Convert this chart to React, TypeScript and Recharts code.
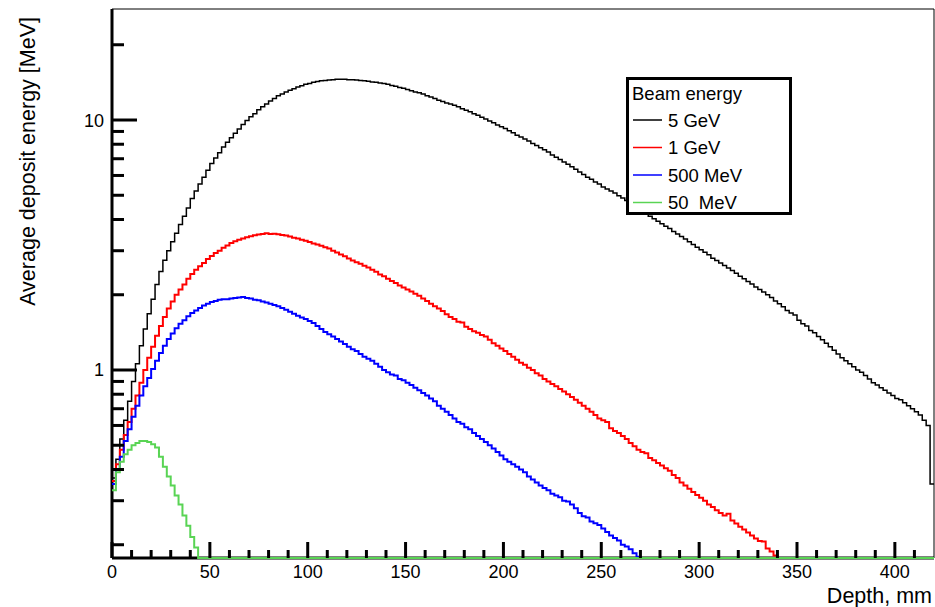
import React from "react";
import { ComposedChart, Line, XAxis, YAxis, ReferenceArea } from "recharts";

// histogram binning along depth (mm)
const BIN_WIDTH = 2;
const DEPTH_MAX = 420;
const Y_MIN = 0.177;
const Y_MAX = 27.8;

// bin contents, MeV per 2 mm bin; bins past the end of an array are empty
const beam5GeV = [
  0.37, 0.44, 0.53, 0.63, 0.75, 0.9, 1.06, 1.25, 1.46, 1.68,
  1.92, 2.2, 2.48, 2.75, 3.0, 3.26, 3.52, 3.82, 4.12, 4.45,
  4.85, 5.2, 5.55, 5.9, 6.3, 6.7, 7.05, 7.4, 7.8, 8.15,
  8.5, 8.85, 9.2, 9.6, 9.95, 10.3, 10.6, 11.0, 11.3, 11.6,
  11.9, 12.2, 12.5, 12.7, 12.95, 13.15, 13.35, 13.55, 13.7, 13.9,
  14.0, 14.15, 14.25, 14.35, 14.4, 14.45, 14.5, 14.55, 14.55, 14.55,
  14.5, 14.5, 14.45, 14.4, 14.35, 14.3, 14.2, 14.15, 14.05, 14.0,
  13.9, 13.75, 13.65, 13.5, 13.4, 13.25, 13.1, 12.95, 12.85, 12.7,
  12.5, 12.35, 12.2, 12.0, 11.85, 11.7, 11.6, 11.45, 11.3, 11.1,
  10.95, 10.8, 10.6, 10.45, 10.25, 10.1, 9.9, 9.75, 9.55, 9.4,
  9.25, 9.05, 8.9, 8.7, 8.55, 8.4, 8.25, 8.05, 7.9, 7.75,
  7.6, 7.45, 7.25, 7.1, 6.95, 6.8, 6.65, 6.5, 6.35, 6.2,
  6.05, 5.9, 5.8, 5.65, 5.55, 5.4, 5.3, 5.2, 5.1, 4.98,
  4.87, 4.76, 4.65, 4.55, 4.45, 4.35, 4.25, 4.12, 4.03, 3.94,
  3.85, 3.76, 3.68, 3.58, 3.5, 3.42, 3.34, 3.26, 3.18, 3.1,
  3.03, 2.96, 2.89, 2.8, 2.74, 2.68, 2.62, 2.56, 2.5, 2.44,
  2.37, 2.32, 2.26, 2.21, 2.15, 2.1, 2.05, 2.0, 1.95, 1.89,
  1.84, 1.79, 1.73, 1.69, 1.66, 1.58, 1.53, 1.5, 1.44, 1.41,
  1.36, 1.32, 1.28, 1.24, 1.2, 1.16, 1.12, 1.09, 1.06, 1.03,
  1.0, 0.98, 0.95, 0.92, 0.89, 0.87, 0.85, 0.83, 0.81, 0.79,
  0.77, 0.76, 0.74, 0.72, 0.7, 0.68, 0.66, 0.63, 0.6, 0.35,
];

const beam1GeV = [
  0.36, 0.42, 0.48, 0.55, 0.62, 0.7, 0.79, 0.89, 1.0, 1.12,
  1.24, 1.37, 1.5, 1.63, 1.76, 1.88, 2.0, 2.1, 2.2, 2.32,
  2.42, 2.52, 2.6, 2.68, 2.78, 2.86, 2.94, 3.0, 3.08, 3.15,
  3.22, 3.27, 3.32, 3.36, 3.4, 3.43, 3.46, 3.48, 3.5, 3.52,
  3.5, 3.51, 3.49, 3.47, 3.45, 3.42, 3.38, 3.36, 3.32, 3.29,
  3.25, 3.21, 3.18, 3.14, 3.1, 3.06, 3.0, 2.95, 2.9, 2.85,
  2.79, 2.74, 2.7, 2.66, 2.61, 2.57, 2.52, 2.47, 2.41, 2.37,
  2.32, 2.27, 2.23, 2.18, 2.14, 2.1, 2.06, 2.02, 1.98, 1.93,
  1.89, 1.84, 1.8, 1.76, 1.72, 1.67, 1.63, 1.6, 1.56, 1.55,
  1.49, 1.46, 1.43, 1.41, 1.38, 1.36, 1.32, 1.28, 1.25, 1.22,
  1.19, 1.16, 1.13, 1.1, 1.07, 1.05, 1.02, 1.0, 0.97, 0.95,
  0.92, 0.9, 0.88, 0.86, 0.84, 0.82, 0.8, 0.78, 0.76, 0.74,
  0.72, 0.7, 0.68, 0.66, 0.64, 0.63, 0.62, 0.585, 0.57, 0.56,
  0.545, 0.53, 0.51, 0.495, 0.48, 0.47, 0.465, 0.445, 0.435, 0.425,
  0.415, 0.405, 0.395, 0.38, 0.37, 0.355, 0.345, 0.335, 0.325, 0.316,
  0.308, 0.3, 0.29, 0.283, 0.275, 0.268, 0.262, 0.266, 0.25, 0.243,
  0.236, 0.23, 0.224, 0.218, 0.212, 0.207, 0.206, 0.193, 0.188, 0.181,
];

const beam500MeV = [
  0.35, 0.4, 0.45, 0.52, 0.58, 0.65, 0.72, 0.79, 0.86, 0.93,
  1.01, 1.09, 1.17, 1.25, 1.33, 1.4, 1.47, 1.53, 1.58, 1.64,
  1.69, 1.73, 1.77, 1.81, 1.84, 1.87, 1.89, 1.91, 1.92, 1.92,
  1.93, 1.94, 1.95, 1.96, 1.94, 1.93, 1.91, 1.9, 1.88, 1.86,
  1.84, 1.82, 1.8, 1.77, 1.74, 1.71, 1.68, 1.65, 1.62, 1.6,
  1.57, 1.54, 1.5, 1.46, 1.42, 1.39, 1.36, 1.33, 1.3, 1.27,
  1.24, 1.21, 1.19, 1.16, 1.13, 1.11, 1.09, 1.06, 1.03, 1.0,
  0.98, 0.96, 0.95, 0.92, 0.91, 0.89, 0.87, 0.85, 0.83, 0.81,
  0.79, 0.77, 0.75, 0.72, 0.7, 0.68, 0.66, 0.64, 0.62, 0.61,
  0.59, 0.58, 0.56, 0.545, 0.53, 0.515, 0.5, 0.485, 0.47, 0.455,
  0.44, 0.43, 0.42, 0.41, 0.4, 0.39, 0.375, 0.365, 0.355, 0.345,
  0.337, 0.33, 0.32, 0.315, 0.31, 0.3, 0.298, 0.29, 0.28, 0.268,
  0.26, 0.257, 0.248, 0.244, 0.24, 0.232, 0.225, 0.218, 0.213, 0.208,
  0.2, 0.197, 0.192, 0.185, 0.179,
];

const beam50MeV = [
  0.33, 0.39, 0.43, 0.46, 0.48, 0.5, 0.51, 0.52, 0.52, 0.515,
  0.505, 0.49, 0.45, 0.41, 0.375, 0.345, 0.315, 0.29, 0.262, 0.238,
  0.215, 0.195,
];

const xTicks = [
  0, 10, 20, 30, 40, 50, 60, 70, 80, 90, 100, 110, 120, 130, 140, 150, 160, 170, 180, 190, 200,
  210, 220, 230, 240, 250, 260, 270, 280, 290, 300, 310, 320, 330, 340, 350, 360, 370, 380, 390, 400, 410,
];
const xLabelTicks = [0, 50, 100, 150, 200, 250, 300, 350, 400];
const yTicks = [0.2, 0.3, 0.4, 0.5, 0.6, 0.7, 0.8, 0.9, 1, 2, 3, 4, 5, 6, 7, 8, 9, 10, 20];
const yLabelTicks = [1, 10];

const series = [
  { key: "e5", name: "5 GeV", color: "#000000", width: 1.5, values: beam5GeV },
  { key: "e1", name: "1 GeV", color: "#ff0000", width: 2, values: beam1GeV },
  { key: "e500", name: "500 MeV", color: "#0000ff", width: 2, values: beam500MeV },
  { key: "e50", name: "50  MeV", color: "#59d454", width: 2, values: beam50MeV },
];

const FONT = "'Liberation Sans', Arial, Helvetica, sans-serif";
const nBins = DEPTH_MAX / BIN_WIDTH;

// empty bins sit on the lower edge of the frame, like ROOT draws them
const binRow = (i: number) => {
  const row: Record<string, number> = { x: i * BIN_WIDTH };
  series.forEach((s) => {
    const v = s.values[Math.min(i, nBins - 1)] ?? 0;
    row[s.key] = Math.max(v, Y_MIN);
  });
  return row;
};
const rows = Array.from({ length: nBins + 1 }, (_, i) => binRow(i));
rows[nBins].x = DEPTH_MAX;

const XTick = (props: any) => {
  const { x, y, payload } = props;
  const major = xLabelTicks.includes(payload.value);
  return (
    <g>
      <line x1={x} x2={x} y1={y} y2={y - (major ? 16 : 8)} stroke="#000" strokeWidth={3} />
      {major && (
        <text x={x} y={y + 20} textAnchor="middle" fontSize={18} fontFamily={FONT} fill="#000">
          {payload.value}
        </text>
      )}
    </g>
  );
};

const YTick = (props: any) => {
  const { x, y, payload } = props;
  const major = yLabelTicks.includes(payload.value);
  return (
    <g>
      <line x1={x} x2={x + (major ? 25 : 12)} y1={y} y2={y} stroke="#000" strokeWidth={3} />
      {major && (
        <text x={x - 8} y={y + 6.5} textAnchor="end" fontSize={18} fontFamily={FONT} fill="#000">
          {payload.value}
        </text>
      )}
    </g>
  );
};

const BeamLegend = () => (
  <div
    style={{
      position: "absolute",
      left: 626,
      top: 77,
      width: 166,
      height: 138,
      border: "3px solid #000",
      boxSizing: "border-box",
      background: "#fff",
    }}
  >
    <svg width={160} height={132} style={{ display: "block" }}>
      <text x={3} y={20} fontSize={18.5} fontFamily={FONT} fill="#000">
        Beam energy
      </text>
      {series.map((s, i) => {
        const cy = 40 + i * 27.5;
        return (
          <g key={s.key}>
            <line x1={4} x2={33} y1={cy} y2={cy} stroke={s.color} strokeWidth={1.5} />
            <text x={39} y={cy + 6.6} fontSize={18.5} fontFamily={FONT} fill="#000" style={{ whiteSpace: "pre" }}>
              {s.name}
            </text>
          </g>
        );
      })}
    </svg>
  </div>
);

export default function App() {
  return (
    <div style={{ position: "absolute", left: 0, top: 0, width: 935, height: 607, background: "#fff" }}>
      <ComposedChart width={935} height={607} data={rows} margin={{ top: 9, right: 1, bottom: 0, left: 0 }}>
        <ReferenceArea x1={0} x2={DEPTH_MAX} y1={Y_MIN} y2={Y_MAX} fill="none" stroke="#000" strokeWidth={1} />
        <XAxis
          dataKey="x"
          type="number"
          domain={[0, DEPTH_MAX]}
          ticks={xTicks}
          interval={0}
          height={49}
          tickSize={0}
          tickMargin={0}
          tickLine={false}
          axisLine={{ stroke: "#000", strokeWidth: 3 }}
          tick={<XTick />}
          label={{
            content: () => (
              <text x={932} y={603} textAnchor="end" fontSize={21.5} fontFamily={FONT} fill="#000">
                Depth, mm
              </text>
            ),
          }}
        />
        <YAxis
          type="number"
          scale="log"
          domain={[Y_MIN, Y_MAX]}
          ticks={yTicks}
          interval={0}
          width={112}
          tickSize={0}
          tickMargin={0}
          tickLine={false}
          axisLine={{ stroke: "#000", strokeWidth: 3 }}
          tick={<YTick />}
          label={{
            content: () => (
              <text
                x={35}
                y={17}
                transform="rotate(-90 35 17)"
                textAnchor="end"
                fontSize={21.5}
                fontFamily={FONT}
                fill="#000"
              >
                Average deposit energy [MeV]
              </text>
            ),
          }}
        />
        {series.map((s) => (
          <Line
            key={s.key}
            dataKey={s.key}
            name={s.name}
            type="stepAfter"
            stroke={s.color}
            strokeWidth={s.width}
            dot={false}
            activeDot={false}
            isAnimationActive={false}
            zIndex={600}
          />
        ))}
      </ComposedChart>
      <BeamLegend />
    </div>
  );
}
